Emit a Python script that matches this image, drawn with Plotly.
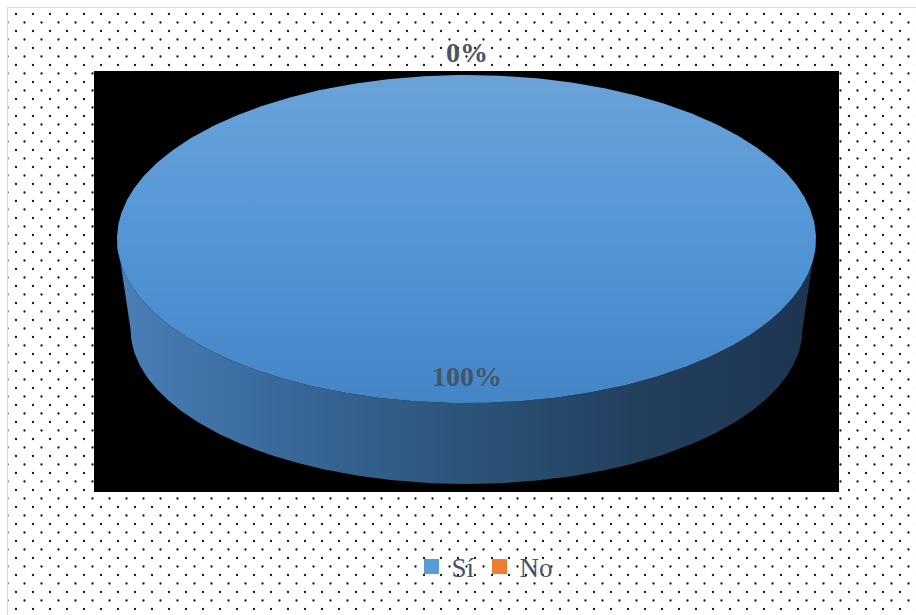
import base64

import numpy as np
import plotly.graph_objects as go

# ---- data -------------------------------------------------------------
categories = ["Sí", "No"]
values = [100, 0]
slice_colors = ["#5b9bd5", "#ed7d31"]

# ---- page / plot geometry --------------------------------------------
W, H = 916, 615
PLOT_L, PLOT_R, PLOT_T, PLOT_B = 94, 839, 71, 492
PW, PH = PLOT_R - PLOT_L, PLOT_B - PLOT_T
X_DOMAIN = [PLOT_L / W, PLOT_R / W]
Y_DOMAIN = [1 - PLOT_B / H, 1 - PLOT_T / H]
X_RANGE = [-PW / 2, PW / 2]
Y_RANGE = [-PH / 2, PH / 2]

# disc in plot units (1 unit = 1 px, origin at plot centre, y up)
TOP = dict(cx=0.0, cy=42.5, a=349.5, b=164.0)      # upper face
BOT = dict(cx=0.0, cy=-47.5, a=336.0, b=155.0)     # lower rim (perspective)

FONT = "Liberation Serif"
TEXT_COLOR = "#44546a"

# shading of the pie faces
TOP_SHADE = [[0.0, "#4485c6"], [0.5, "#5296d6"], [1.0, "#6ba2d9"]]
WALL_SHADE = [[0.0, "#4a7fb8"], [0.22, "#3a6a9c"], [0.5, "#2b5479"],
              [0.75, "#233f5e"], [1.0, "#1c3450"]]


def ellipse(e, theta):
    return e["cx"] + e["a"] * np.cos(theta), e["cy"] + e["b"] * np.sin(theta)


def to_paper(v, rng, dom):
    """Axis value -> paper fraction (labels may sit outside the axis range)."""
    return dom[0] + (v - rng[0]) / (rng[1] - rng[0]) * (dom[1] - dom[0])


# ---- dotted backdrop + frame line as an inline SVG --------------------
svg = (
    f"<svg xmlns='http://www.w3.org/2000/svg' width='{W}' height='{H}'>"
    "<defs><pattern id='d' x='0' y='0' width='17' height='17' "
    "patternUnits='userSpaceOnUse'>"
    "<circle cx='16' cy='14' r='1.15' fill='#111'/>"
    "<circle cx='7.5' cy='5.5' r='1.15' fill='#111'/>"
    "</pattern></defs>"
    f"<rect x='7' y='7' width='{W}' height='{H}' fill='url(#d)'/>"
    f"<path d='M7.5 {H} V7.5 H{W}' stroke='#d9d9d9' stroke-width='1' fill='none'/>"
    "</svg>"
)
backdrop = "data:image/svg+xml;base64," + base64.b64encode(svg.encode()).decode()

fig = go.Figure()
annotations = []

total = float(sum(values))
start = 0.0
for name, val, col in zip(categories, values, slice_colors):
    frac = val / total
    t0 = np.pi / 2 - 2 * np.pi * start          # slices run clockwise from 12 o'clock
    t1 = np.pi / 2 - 2 * np.pi * (start + frac)
    mid = (t0 + t1) / 2

    if frac > 0:
        theta = np.linspace(t0, t1, 721)
        # front wall: the part of the slice on the near half of the disc
        front = theta[np.sin(theta) <= 1e-9]
        if front.size > 1:
            ux, uy = ellipse(TOP, front)
            lx, ly = ellipse(BOT, front[::-1])
            fig.add_trace(go.Scatter(
                x=np.concatenate([ux, lx, ux[:1]]),
                y=np.concatenate([uy, ly, uy[:1]]),
                mode="lines", fill="toself", line=dict(width=0),
                fillgradient=dict(type="horizontal", colorscale=WALL_SHADE),
                hoverinfo="skip", showlegend=False,
            ))
        # upper face
        fx, fy = ellipse(TOP, theta)
        if frac < 1:
            fx = np.concatenate([[TOP["cx"]], fx, [TOP["cx"]]])
            fy = np.concatenate([[TOP["cy"]], fy, [TOP["cy"]]])
        fig.add_trace(go.Scatter(
            x=fx, y=fy, mode="lines", fill="toself", line=dict(width=0),
            fillgradient=dict(type="vertical", colorscale=TOP_SHADE),
            hoverinfo="skip", showlegend=False,
        ))

    # data label: inside for large slices, just outside the rim for tiny ones
    r = 0.84 if frac >= 0.05 else 1.14
    lx = TOP["cx"] + TOP["a"] * r * np.cos(mid)
    ly = TOP["cy"] + TOP["b"] * r * np.sin(mid)
    annotations.append(dict(
        x=to_paper(lx, X_RANGE, X_DOMAIN), y=to_paper(ly, Y_RANGE, Y_DOMAIN),
        xref="paper", yref="paper", showarrow=False,
        text=f"<b>{round(frac * 100)}%</b>",
        font=dict(family=FONT, size=28, color=TEXT_COLOR),
        xanchor="center", yanchor="middle",
    ))
    start += frac

# legend entries
for name, col in zip(categories, slice_colors):
    fig.add_trace(go.Scatter(
        x=[None], y=[None], mode="markers", name=name,
        marker=dict(symbol="square", size=15, color=col),
    ))

fig.update_layout(
    width=W, height=H,
    margin=dict(l=0, r=0, t=0, b=0),
    paper_bgcolor="white",
    plot_bgcolor="rgba(0,0,0,0)",
    xaxis=dict(domain=X_DOMAIN, range=X_RANGE, visible=False, fixedrange=True),
    yaxis=dict(domain=Y_DOMAIN, range=Y_RANGE, visible=False, fixedrange=True),
    images=[dict(source=backdrop, xref="paper", yref="paper", x=0, y=1,
                 sizex=1, sizey=1, xanchor="left", yanchor="top",
                 sizing="stretch", layer="below")],
    shapes=[dict(type="rect", xref="x domain", yref="y domain",
                 x0=0, x1=1, y0=0, y1=1, fillcolor="black",
                 line=dict(width=0), layer="below")],
    annotations=annotations,
    legend=dict(orientation="h", x=485 / W, xanchor="center",
                y=1 - 567 / H, yanchor="middle",
                font=dict(family=FONT, size=27, color=TEXT_COLOR),
                bgcolor="rgba(0,0,0,0)", itemclick=False, itemdoubleclick=False),
    showlegend=True,
)

fig.write_html("out.html")
